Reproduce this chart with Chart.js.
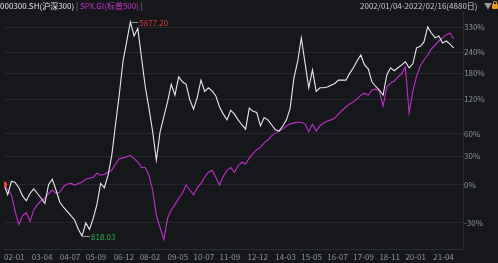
<!DOCTYPE html>
<html>
<head>
<meta charset="utf-8">
<script src="https://cdn.jsdelivr.net/npm/chart.js@4/dist/chart.umd.min.js"></script>
<style>
html, body { margin: 0; padding: 0; background: #15171b; }
#wrap { position: relative; width: 498px; height: 263px; overflow: hidden; }
#c { position: absolute; left: 0; top: 0; }
.hd { position: absolute; top: 0; font: 8px "Noto Sans CJK SC", "Noto Sans", sans-serif; line-height: 11px; white-space: nowrap; }
#lock { position: absolute; left: 492px; top: 4px; width: 6px; height: 5px; background: #e49a1e; border-radius: 1px; }
#lock:before { content: ""; position: absolute; left: 1px; top: -3px; width: 2px; height: 2px; border: 1px solid #e49a1e; border-bottom: 0; border-radius: 2px 2px 0 0; }
</style>
</head>
<body>
<div id="wrap">
<canvas id="c" width="498" height="263"></canvas>
<div class="hd" style="left:0"><span style="color:#e4e4e4">000300.SH(沪深300)</span><span style="color:#8a8a8a"> | </span><span style="color:#c433cc">SPX.GI(标普500)</span><span style="color:#8a8a8a"> |</span></div>
<div class="hd" style="left:360px;color:#c9c9c9">2002/01/04-2022/02/16(4880日)</div>
<div class="hd" style="left:484px;color:#9a9a9a">▼</div>
<div id="lock"></div>
</div>
<script>
// cumulative change in %, one value every 2 months from 2002-01
var csiPct = [0, -9, 3, 2, -3, -10, -14, -8, -4, -8, -12, -16, 0, 5, -5, -15, -19, -22, -25, -28,
  -34, -38, -30, -34, -27, -17, 1, -3, 9, 31, 74, 129, 212, 275, 351, 296, 325, 224, 148, 103,
  63, 25.5, 63, 87, 115, 153, 129, 171, 159, 153, 119, 101, 124, 163, 137, 145, 138, 127, 105, 92,
  82, 99, 92, 82, 74, 67, 103, 97, 95, 72, 86, 82, 74, 66, 64, 72, 82, 103, 168, 212,
  289, 208, 145, 189, 137, 145, 145, 147, 151, 155, 163, 163, 163, 180, 195, 214, 232, 203, 192, 159,
  148, 140, 129, 176, 195, 187, 195, 203, 212, 195, 206, 255, 260, 275, 331, 307, 289, 296, 271, 278,
  267, 255];
var spxPct = [0, -5, -9, -22, -31, -25, -23, -29, -21, -17, -14, -12, -8, -5, -8, -7, -2, 0.5, 1, -0.5,
  1, 2, 5, 6, 7, 11, 9, 10, 12, 14, 21, 27, 28, 29, 31, 27, 23, 17, 17, 9,
  -5, -25, -33, -40, -27, -21, -17, -12, -8, -0.5, -5, -9, -3, 1, 7, 12, 14, 7, -0.5, 8,
  14, 17, 12, 19, 23, 21, 28, 33, 38, 41, 47, 51, 57, 61, 64, 67, 72, 75, 77, 78,
  78, 75, 63, 75, 64, 72, 77, 80, 82, 85, 92, 99, 105, 111, 115, 121, 129, 133, 129, 140,
  142, 137, 107, 147, 156, 161, 171, 179, 197, 94, 137, 173, 200, 217, 232, 251, 264, 278, 289, 300,
  307, 285];
var monthStep = 2;

var xTickMonths = [0, 15, 30, 44, 59, 73, 88, 102, 116, 131, 146, 160, 174, 188, 202, 216, 231];
var xTickLabels = ['02-01', '03-04', '04-07', '05-09', '06-12', '08-02', '09-05', '10-07', '11-09',
  '12-12', '14-03', '15-05', '16-07', '17-09', '18-11', '20-01', '21-04'];
var yTickLabels = ['-30%', '0%', '30%', '60%', '120%', '180%', '240%', '330%'];

var csiHighText = '5877.20';
var csiLowText = '818.03';

function toPoints(arr){
    return arr.map(function(p, i){ return {x: i * monthStep, y: 1 + p / 100}; });
}
var yTickValues = yTickLabels.map(function(s){ return 1 + parseFloat(s) / 100; });

Chart.defaults.font.family = '"Noto Sans CJK SC", "Noto Sans", sans-serif';
Chart.defaults.font.size = 8;
Chart.defaults.color = '#8d929a';

var markers = {
    id: 'markers',
    afterDatasetsDraw: function(chart){
        var ctx = chart.ctx;
        var xs = chart.scales.x, ys = chart.scales.y;
        function mark(i, text, color){
            var px = xs.getPixelForValue(i * monthStep);
            var py = ys.getPixelForValue(1 + csiPct[i] / 100);
            ctx.save();
            ctx.strokeStyle = '#9a9a9a';
            ctx.lineWidth = 1;
            ctx.beginPath();
            ctx.moveTo(px + 1, py + 0.5);
            ctx.lineTo(px + 8, py + 0.5);
            ctx.stroke();
            ctx.fillStyle = color;
            ctx.font = '8px "Noto Sans CJK SC", "Noto Sans", sans-serif';
            ctx.textBaseline = 'middle';
            ctx.fillText(text, px + 9, py + 0.5);
            ctx.restore();
        }
        mark(csiPct.indexOf(Math.max.apply(null, csiPct)), csiHighText, '#d8383c');
        mark(csiPct.indexOf(Math.min.apply(null, csiPct)), csiLowText, '#2bb24c');
    }
};

var ctx = document.getElementById('c').getContext('2d');
var chart = new Chart(ctx, {
    type: 'line',
    data: {
        datasets: [
            {
                label: '000300.SH',
                data: toPoints(csiPct),
                borderColor: '#e8e8e8',
                borderWidth: 1.1,
                pointRadius: function(c){ return c.dataIndex === 0 ? 3 : 0; },
                pointBackgroundColor: '#e8552a',
                pointBorderWidth: 0,
                tension: 0,
                order: 1
            },
            {
                label: 'SPX.GI',
                data: toPoints(spxPct),
                borderColor: '#c22ecb',
                borderWidth: 1.1,
                pointRadius: 0,
                tension: 0,
                order: 2
            }
        ]
    },
    options: {
        responsive: false,
        animation: false,
        layout: { padding: { top: 12, left: 0, right: 0, bottom: 0 } },
        plugins: { legend: { display: false }, tooltip: { enabled: false } },
        scales: {
            x: {
                type: 'linear',
                min: 0,
                max: 247,
                afterBuildTicks: function(scale){
                    scale.ticks = xTickMonths.map(function(v){ return {value: v}; });
                },
                afterFit: function(scale){ scale.height = 14; },
                ticks: {
                    autoSkip: false,
                    maxRotation: 0,
                    align: 'start',
                    padding: 3,
                    callback: function(v){ return xTickLabels[xTickMonths.indexOf(v)]; }
                },
                grid: { color: 'transparent', drawTicks: false },
                border: { display: true, color: '#2a2d33' }
            },
            y: {
                type: 'logarithmic',
                position: 'right',
                min: 0.55,
                max: 4.946,
                afterBuildTicks: function(scale){
                    scale.ticks = yTickValues.map(function(v){ return {value: v}; });
                },
                afterFit: function(scale){ scale.width = 35; },
                ticks: {
                    crossAlign: 'near',
                    padding: 1,
                    callback: function(v){ return yTickLabels[yTickValues.indexOf(v)]; }
                },
                grid: { color: '#24272d', drawTicks: false },
                border: { display: true, color: '#2a2d33' }
            }
        }
    },
    plugins: [markers]
});
</script>
</body>
</html>
